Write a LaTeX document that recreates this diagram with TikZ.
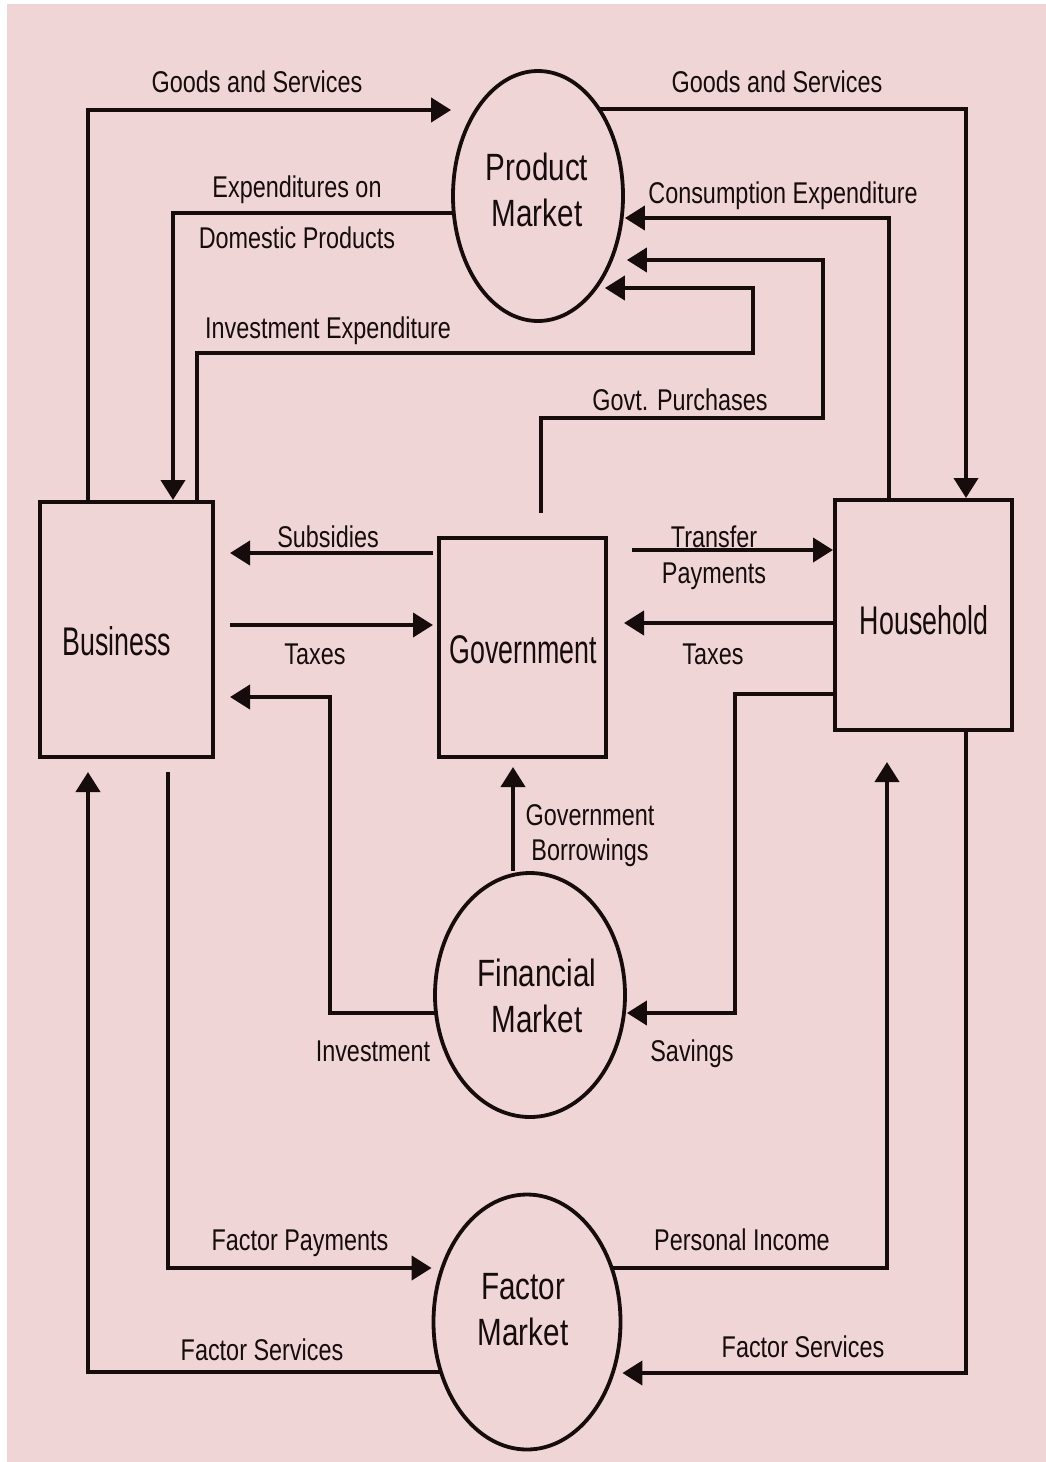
\documentclass[tikz,border=0pt]{standalone}
\usepackage{fontspec}
\setmainfont{Liberation Sans}
\newfontfamily\lblfont{Liberation Sans}[FakeStretch=0.78]
\newfontfamily\boxfont{Liberation Sans}[FakeStretch=0.67]
\usetikzlibrary{arrows.meta,shapes.geometric}
\definecolor{bgpink}{RGB}{240,213,215}
\definecolor{ink}{RGB}{22,12,12}
\pgfdeclarelayer{background}
\pgfsetlayers{background,main}
\begin{document}
\begin{tikzpicture}[x=1pt,y=-1pt,
 lbl/.style={font=\lblfont\fontsize{30}{32}\selectfont, text=ink, inner sep=0pt, text height=21pt, text depth=0pt},
 boxnode/.style={draw=ink, fill=bgpink, line width=4pt, rectangle, inner sep=0pt},
 boxtxt/.style={font=\boxfont\fontsize{40}{42}\selectfont, text=ink, inner sep=0pt, text height=29pt, text depth=0pt},
 mkt/.style={draw=ink, fill=bgpink, line width=3.8pt, ellipse, inner sep=0pt},
 mkttxt/.style={font=\lblfont\fontsize{38}{46}\selectfont, align=center, text=ink, inner sep=0pt},
 flow/.style={draw=ink, line width=4pt, -{Triangle[length=20pt,width=24pt]}}]

\useasboundingbox (0,0) rectangle (1046,1462);

% shapes
\node[mkt, minimum width=170pt, minimum height=250pt] (pm) at (538,196) {};
\node[mkt, minimum width=190pt, minimum height=244pt] (fm) at (530,995) {};
\node[mkt, minimum width=187pt, minimum height=255pt] (fac) at (527,1322) {};
\node[boxnode, minimum width=173pt, minimum height=255pt] (bus) at (126.5,629.5) {};
\node[boxnode, minimum width=167pt, minimum height=219pt] (gov) at (522.5,647.5) {};
\node[boxnode, minimum width=177pt, minimum height=230pt] (hh) at (923.5,615) {};

% shape texts
\node[mkttxt] (pmt) at (537,190) {Product\\Market};
\node[mkttxt] (fmt) at (537,996) {Financial\\Market};
\node[mkttxt] (fact) at (523,1310) {Factor\\Market};
\node[boxtxt] (bust) at (117,641) {Business};
\node[boxtxt] (govt) at (523,649) {Government};
\node[boxtxt] (hht) at (924,620) {Household};

\begin{pgfonlayer}{background}
\fill[white] (0,0) rectangle (1046,1462);
\fill[bgpink] (7,4) rectangle (1046,1462);
% top part
\draw[flow] (bus.north -| 88,0) |- (pm.west |- 0,110);
\draw[flow] (pm.center |- 0,109) -| (hh.north -| 966,0);
\draw[flow] (pm.center |- 0,213) -| (bus.north -| 173,0);
\draw[flow] (hh.north -| 889,0) |- (pm.east |- 0,218);
\draw[flow, shorten <=23pt] (gov.north -| 541,0) -- (541,418) -| (823,260) -- ([xshift=2pt]pm.east |- 0,260);
\draw[flow] (bus.north -| 197,0) |- (753,353) |- ([xshift=-20pt]pm.east |- 0,288);
% middle
\draw[flow] ([xshift=-4pt]gov.west |- 0,553) -- ([xshift=15pt]bus.east |- 0,553);
\draw[flow] ([xshift=15pt]bus.east |- 0,625) -- ([xshift=-4pt]gov.west |- 0,625);
\draw[flow] ([xshift=24pt]gov.east |- 0,550) -- (hh.west |- 0,550);
\draw[flow] (hh.west |- 0,623) -- ([xshift=16pt]gov.east |- 0,623);
\draw[flow] (fm.center |- 0,1013) -| (330,697) -- ([xshift=15pt]bus.east |- 0,697);
\draw[flow] (hh.west |- 0,694) -| (735,1013) -- (fm.east |- 0,1013);
\draw[flow] (fm.north -| 513,0) -- ([yshift=-8pt]gov.south -| 513,0);
% bottom
\draw[flow] ([yshift=-13pt]bus.south -| 168,0) -- (168,1268) -- (fac.west |- 0,1268);
\draw[flow] (fac.center |- 0,1268) -| ([yshift=-30pt]hh.south -| 887,0);
\draw[flow] (fac.center |- 0,1372) -| ([yshift=-13pt]bus.south -| 88,0);
\draw[flow] (hh.south -| 966,0) |- (fac.east |- 0,1373);
\end{pgfonlayer}

% labels
\node[lbl] (l1) at (257,82) {Goods and Services};
\node[lbl] (l2) at (777,82) {Goods and Services};
\node[lbl] (l3) at (297,187) {Expenditures on};
\node[lbl] (l4) at (297,238) {Domestic Products};
\node[lbl] (l5) at (783,193) {Consumption Expenditure};
\node[lbl] (l6) at (328,328) {Investment Expenditure};
\node[lbl] (l7) at (680,400) {Govt. Purchases};
\node[lbl] (l8) at (328,537) {Subsidies};
\node[lbl] (l9) at (315,654) {Taxes};
\node[lbl] (l10) at (714,537) {Transfer};
\node[lbl] (l11) at (714,573) {Payments};
\node[lbl] (l12) at (713,654) {Taxes};
\node[lbl] (l13) at (590,815) {Government};
\node[lbl] (l14) at (590,850) {Borrowings};
\node[lbl] (l15) at (373,1051) {Investment};
\node[lbl] (l16) at (692,1051) {Savings};
\node[lbl] (l17) at (300,1240) {Factor Payments};
\node[lbl] (l18) at (742,1240) {Personal Income};
\node[lbl] (l19) at (262,1350) {Factor Services};
\node[lbl] (l20) at (803,1347) {Factor Services};
\end{tikzpicture}
\end{document}
